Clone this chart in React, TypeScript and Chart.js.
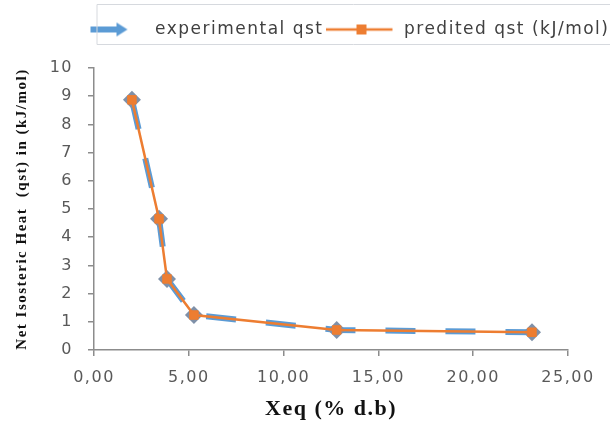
import React, { useEffect, useRef } from "react";
import { Chart, registerables } from "chart.js";

Chart.register(...registerables);

// ---- data ----
const moistureX = [2.0, 3.43, 3.85, 5.27, 12.8, 23.1];
const experimentalQst = [8.87, 4.65, 2.52, 1.24, 0.71, 0.63];
const predictedQst = [8.87, 4.65, 2.52, 1.24, 0.71, 0.63];
const xTickValues = [0, 5, 10, 15, 20, 25];
const xTickLabels = ["0,00", "5,00", "10,00", "15,00", "20,00", "25,00"];
const yTickValues = [0, 1, 2, 3, 4, 5, 6, 7, 8, 9, 10];
const yTickLabels = ["0", "1", "2", "3", "4", "5", "6", "7", "8", "9", "10"];
const seriesNames = ["experimental qst", "predited qst (kJ/mol)"];
const xTitle = "Xeq (% d.b)";
const yTitle = "Net Isosteric Heat  (qst) in (kJ/mol)";

const BLUE = "#5B9BD5";
const BLUE_MARK = "#7f90a8";
const ORANGE = "#ED7D31";
const AXIS = "#8c8c8c";
const TICK_TXT = "#595959";

function makeArrowIcon() {
  const c = document.createElement("canvas");
  c.width = 70;
  c.height = 18;
  const g = c.getContext("2d")!;
  g.strokeStyle = BLUE;
  g.lineWidth = 6;
  g.lineCap = "butt";
  g.beginPath();
  g.moveTo(14, 9);
  g.lineTo(42, 9);
  g.stroke();
  g.fillStyle = BLUE;
  g.beginPath();
  g.moveTo(40, 2);
  g.lineTo(51, 9);
  g.lineTo(40, 16);
  g.closePath();
  g.fill();
  return c;
}

function makeLineSquareIcon() {
  const c = document.createElement("canvas");
  c.width = 70;
  c.height = 18;
  const g = c.getContext("2d")!;
  g.strokeStyle = ORANGE;
  g.lineWidth = 2.5;
  g.beginPath();
  g.moveTo(0, 9);
  g.lineTo(67, 9);
  g.stroke();
  g.fillStyle = ORANGE;
  g.fillRect(36 - 5, 9 - 5, 10, 10);
  return c;
}

const LEGEND_SHIFT_X = 74.5;
const LEGEND_SHIFT_Y = 13;
const LEGEND_HEIGHT = 62;

const customPlugin = {
  id: "customLayout",
  beforeLayout(chart: any) {
    chart.ctx.letterSpacing = "1.5px";
    const lg = chart.legend;
    if (lg && !lg.__patched) {
      const fit = lg.fit;
      lg.fit = function () {
        fit.call(this);
        this.height = LEGEND_HEIGHT;
      };
      lg.__patched = true;
    }
  },
  afterLayout(chart: any) {
    const lg = chart.legend;
    if (lg) {
      lg.left += LEGEND_SHIFT_X;
      lg.right += LEGEND_SHIFT_X;
      lg.top += LEGEND_SHIFT_Y;
      lg.bottom += LEGEND_SHIFT_Y;
    }
  },
  beforeDraw(chart: any) {
    chart.ctx.letterSpacing = "1.5px";
  },
  afterDraw(chart: any) {
    const lg = chart.legend;
    if (!lg) return;
    const ctx = chart.ctx;
    const x0 = lg.left + 22.5;
    const y0 = lg.top - 14.5;
    ctx.save();
    ctx.strokeStyle = "#d6d9de";
    ctx.lineWidth = 1;
    ctx.beginPath();
    ctx.moveTo(x0, y0);
    ctx.lineTo(chart.width, y0);
    ctx.moveTo(x0, y0 + 40);
    ctx.lineTo(chart.width, y0 + 40);
    ctx.moveTo(x0, y0);
    ctx.lineTo(x0, y0 + 40);
    ctx.stroke();
    ctx.restore();
  },
};

export default function App() {
  const ref = useRef<HTMLCanvasElement | null>(null);

  useEffect(() => {
    document.body.style.margin = "0";
    document.body.style.overflow = "hidden";
    const canvas = ref.current!;
    const icons = [makeArrowIcon(), makeLineSquareIcon()];

    const chart = new Chart(canvas, {
      type: "scatter",
      data: {
        datasets: [
          {
            label: seriesNames[0],
            data: moistureX.map((x, i) => ({ x, y: experimentalQst[i] })),
            showLine: true,
            borderColor: BLUE,
            borderWidth: 6,
            borderDash: [30, 30],
            pointStyle: "rectRot",
            pointRadius: 9,
            pointBackgroundColor: BLUE_MARK,
            pointBorderColor: BLUE_MARK,
            pointBorderWidth: 0,
            order: 2,
          },
          {
            label: seriesNames[1],
            data: moistureX.map((x, i) => ({ x, y: predictedQst[i] })),
            showLine: true,
            borderColor: ORANGE,
            borderWidth: 2.5,
            pointStyle: "rect",
            pointRadius: 6,
            pointBackgroundColor: ORANGE,
            pointBorderColor: ORANGE,
            pointBorderWidth: 1,
            order: 1,
          },
        ],
      },
      options: {
        animation: false,
        responsive: false,
        devicePixelRatio: 1,
        layout: { padding: { left: 0, right: 42, top: 6, bottom: 0 } },
        plugins: {
          tooltip: { enabled: false },
          legend: {
            display: true,
            position: "top",
            align: "start",
            labels: {
              usePointStyle: true,
              pointStyleWidth: 70,
              padding: 2,
              color: "#404040",
              font: { family: "'DejaVu Sans', sans-serif", size: 17 },
              sort: (a: any, b: any) => a.datasetIndex - b.datasetIndex,
              generateLabels: (chart: any) => {
                const base = Chart.defaults.plugins.legend.labels.generateLabels(chart);
                return base.map((item: any) => ({
                  ...item,
                  pointStyle: icons[item.datasetIndex],
                  lineWidth: 0,
                  lineDash: [],
                }));
              },
            },
          },
        },
        scales: {
          x: {
            type: "linear",
            min: 0,
            max: 25,
            afterFit: (scale: any) => {
              scale.height = 88;
            },
            afterBuildTicks: (scale: any) => {
              scale.ticks = xTickValues.map((v) => ({ value: v }));
            },
            ticks: {
              color: TICK_TXT,
              padding: 12,
              maxRotation: 0,
              font: { family: "'DejaVu Sans', sans-serif", size: 16 },
              callback: (v: any) => {
                const i = xTickValues.indexOf(Number(v));
                return i >= 0 ? xTickLabels[i] : "";
              },
            },
            grid: {
              drawOnChartArea: false,
              drawTicks: true,
              tickLength: 6,
              color: AXIS,
              lineWidth: 1.5,
            },
            border: { display: true, color: AXIS, width: 1.5 },
            title: {
              display: true,
              text: xTitle,
              color: "#111",
              font: { family: "'Liberation Serif', 'Times New Roman', serif", size: 22, weight: "bold" },
              padding: { top: 0, bottom: 15 },
            },
          },
          y: {
            type: "linear",
            min: 0,
            max: 10,
            afterFit: (scale: any) => {
              scale.width = 94;
            },
            afterBuildTicks: (scale: any) => {
              scale.ticks = yTickValues.map((v) => ({ value: v }));
            },
            ticks: {
              color: TICK_TXT,
              padding: 15,
              font: { family: "'DejaVu Sans', sans-serif", size: 16 },
              callback: (v: any) => {
                const i = yTickValues.indexOf(Number(v));
                return i >= 0 ? yTickLabels[i] : "";
              },
            },
            grid: {
              drawOnChartArea: false,
              drawTicks: true,
              tickLength: 6,
              color: AXIS,
              lineWidth: 1.5,
            },
            border: { display: true, color: AXIS, width: 1.5 },
            title: {
              display: true,
              text: yTitle,
              color: "#111",
              font: { family: "'Liberation Serif', 'Times New Roman', serif", size: 15, weight: "bold" },
              padding: { top: 13, bottom: 0 },
            },
          },
        },
      },
      plugins: [customPlugin],
    } as any);

    return () => chart.destroy();
  }, []);

  return <canvas ref={ref} width={610} height={438} style={{ display: "block" }} />;
}
